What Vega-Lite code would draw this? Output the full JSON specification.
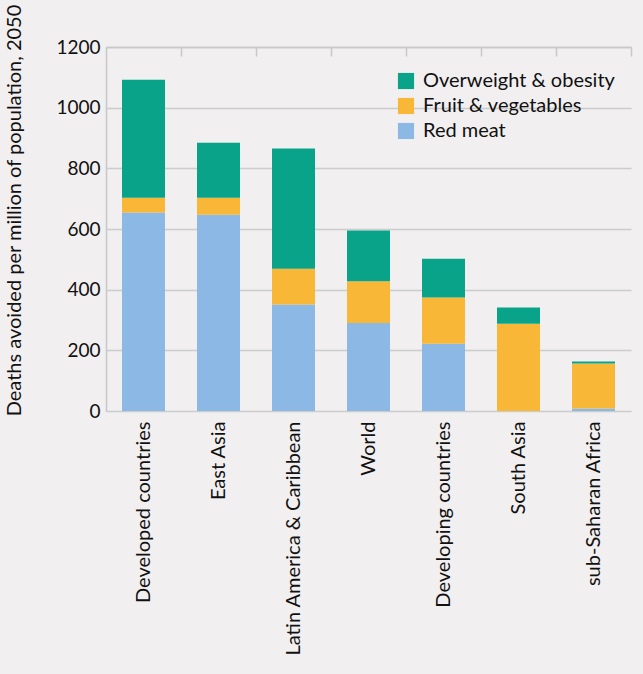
{
  "$schema": "https://vega.github.io/schema/vega-lite/v6.json",
  "width": 525,
  "height": 364,
  "autosize": "none",
  "padding": {"left": 106, "top": 47, "right": 12, "bottom": 263},
  "background": "#f1eff0",
  "config": {
    "view": {"stroke": null},
    "font": "Lato",
    "axis": {"labelFont": "Lato", "titleFont": "Lato", "labelColor": "#111", "titleColor": "#111"}
  },
  "data": {
    "values": [
      {"region": "Developed countries", "risk": "Red meat", "value": 654},
      {"region": "Developed countries", "risk": "Fruit & vegetables", "value": 49},
      {"region": "Developed countries", "risk": "Overweight & obesity", "value": 389},
      {"region": "East Asia", "risk": "Red meat", "value": 647},
      {"region": "East Asia", "risk": "Fruit & vegetables", "value": 56},
      {"region": "East Asia", "risk": "Overweight & obesity", "value": 181},
      {"region": "Latin America & Caribbean", "risk": "Red meat", "value": 351},
      {"region": "Latin America & Caribbean", "risk": "Fruit & vegetables", "value": 118},
      {"region": "Latin America & Caribbean", "risk": "Overweight & obesity", "value": 396},
      {"region": "World", "risk": "Red meat", "value": 290},
      {"region": "World", "risk": "Fruit & vegetables", "value": 138},
      {"region": "World", "risk": "Overweight & obesity", "value": 167},
      {"region": "Developing countries", "risk": "Red meat", "value": 222},
      {"region": "Developing countries", "risk": "Fruit & vegetables", "value": 152},
      {"region": "Developing countries", "risk": "Overweight & obesity", "value": 128},
      {"region": "South Asia", "risk": "Red meat", "value": 0},
      {"region": "South Asia", "risk": "Fruit & vegetables", "value": 288},
      {"region": "South Asia", "risk": "Overweight & obesity", "value": 53},
      {"region": "sub-Saharan Africa", "risk": "Red meat", "value": 8},
      {"region": "sub-Saharan Africa", "risk": "Fruit & vegetables", "value": 149},
      {"region": "sub-Saharan Africa", "risk": "Overweight & obesity", "value": 6}
    ]
  },
  "transform": [
    {"calculate": "indexof(['Red meat','Fruit & vegetables','Overweight & obesity'], datum.risk)", "as": "stackOrder"}
  ],
  "layer": [
    {
      "mark": {"type": "bar", "width": 43},
      "encoding": {
        "x": {
          "field": "region", "type": "nominal", "sort": null,
          "scale": {"paddingInner": 0, "paddingOuter": 0},
          "axis": {
            "title": null, "labelAngle": -90, "labelAlign": "right", "labelBaseline": "middle",
            "labelFontSize": 20, "labelPadding": 10, "labelLimit": 400, "ticks": false, "domain": false
          }
        },
        "y": {
          "field": "value", "type": "quantitative", "stack": "zero",
          "scale": {"domain": [0, 1200], "nice": false},
          "axis": {
            "values": [0, 200, 400, 600, 800, 1000, 1200], "format": "d",
            "title": "Deaths avoided per million of population, 2050",
            "titleFontSize": 20, "titleFontWeight": "normal", "titleX": -82, "titleY": 163,
            "labelFontSize": 19, "labelPadding": 6, "ticks": false,
            "domainColor": "#c8c8c8", "domainWidth": 1.5,
            "gridColor": "#cccccc", "gridWidth": 1.5
          }
        },
        "color": {
          "field": "risk", "type": "nominal",
          "scale": {
            "domain": ["Overweight & obesity", "Fruit & vegetables", "Red meat"],
            "range": ["#08a389", "#f9b738", "#8cb8e5"]
          },
          "legend": {
            "title": null, "orient": "none", "legendX": 290, "legendY": 24,
            "symbolType": "square", "symbolSize": 260, "symbolStrokeWidth": 0,
            "labelFontSize": 20, "labelColor": "#111", "labelLimit": 400, "rowPadding": 5, "labelOffset": 7
          }
        },
        "order": {"field": "stackOrder", "type": "quantitative"}
      }
    },
    {
      "mark": {"type": "bar", "opacity": 0},
      "encoding": {
        "x": {
          "field": "region", "type": "nominal", "sort": null,
          "scale": {"paddingInner": 0, "paddingOuter": 0},
          "axis": {
            "title": null, "labels": false, "bandPosition": 1, "tickSize": -9,
            "tickColor": "#c8c8c8", "tickWidth": 1.5, "domainColor": "#c8c8c8", "domainWidth": 1.5
          }
        },
        "y": {"field": "value", "type": "quantitative", "aggregate": "sum", "axis": null}
      }
    }
  ],
  "resolve": {"axis": {"x": "independent", "y": "independent"}}
}
